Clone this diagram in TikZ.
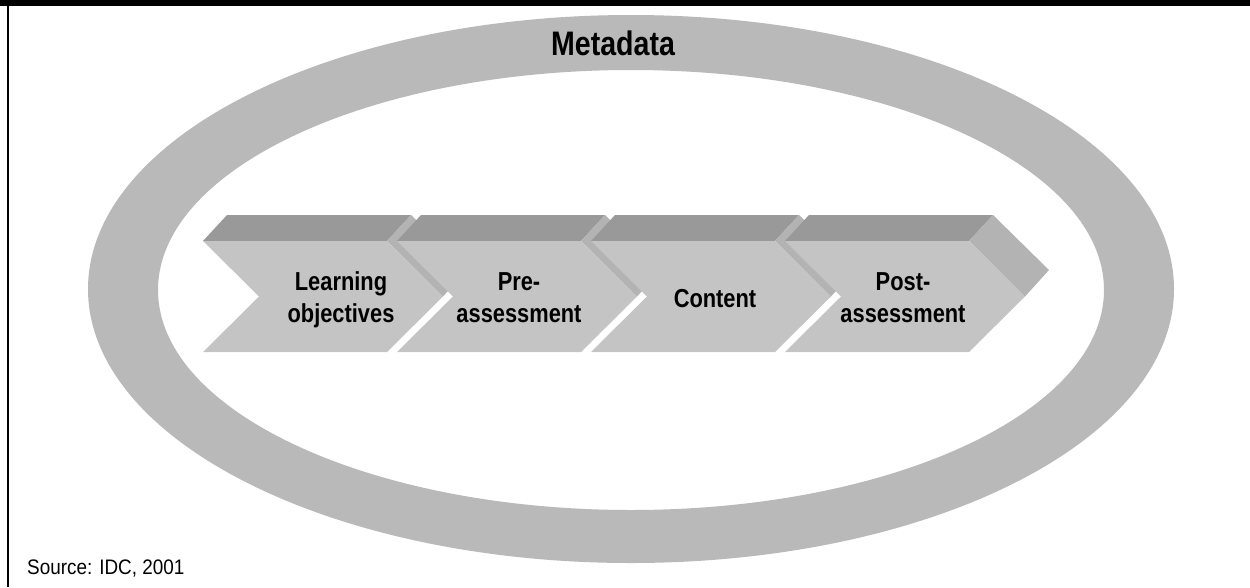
\documentclass[tikz,border=0pt]{standalone}
\usepackage{fontspec}
\setmainfont{Liberation Sans}
\newfontfamily\condfont[FakeStretch=0.84]{Liberation Sans}
\newfontfamily\srcfont[FakeStretch=0.9]{Liberation Sans}
\definecolor{ringgray}{HTML}{B9B9B9}
\definecolor{topgray}{HTML}{999999}
\definecolor{sidegray}{HTML}{B3B3B3}
\definecolor{frontgray}{HTML}{C4C4C4}
\tikzset{
	label/.style={align=center, font=\condfont\bfseries\fontsize{26}{32}\selectfont},
}
\begin{document}
\begin{tikzpicture}[x=1pt, y=-1pt]
		\def\w{184};
		\def\d{56};
		\useasboundingbox (0,0) rectangle (1250,587);
		\coordinate (C) at (631,289);
		% frame
		\fill[black] (0,0) rectangle (1250,6);
		\draw[line width=2pt] (7.5,6) -- (7.5,587);
		% metadata ring
		\fill[ringgray, even odd rule] (C) ellipse [x radius=543, y radius=274]
			(631,290) ellipse [x radius=473, y radius=220];
		\node[font=\condfont\bfseries\fontsize{34}{38}\selectfont] (meta) at (613,43) {Metadata};
		% chevrons
		\foreach \i in {0,...,3} {
			\pgfmathsetmacro{\xa}{203+194*\i}
			\fill[topgray] (\xa,241) -- (\xa+24,215) -- (\xa+\w+24,215) -- (\xa+\w,241) -- cycle;
			\fill[sidegray] (\xa+\w,241) -- (\xa+\w+24,215) -- (\xa+\w+\d+24,270) -- (\xa+\w+\d,296.5) -- cycle;
			\fill[frontgray] (\xa,241) -- (\xa+\w,241) -- (\xa+\w+\d,296.5) -- (\xa+\w,352)
				-- (\xa,352) -- (\xa+\d,296.5) -- cycle;
		}
		\node[label] (lo) at (341,300) {Learning\\objectives};
		\node[label] (pre) at (519,297.5) {Pre-\\assessment};
		\node[label] (content) at (715,298.5) {Content};
		\node[label] (post) at (903,297.5) {Post-\\assessment};
		\node[anchor=base west, inner sep=0pt, font=\srcfont\fontsize{21}{24}\selectfont] (source) at (27,574) {Source: IDC, 2001};
\end{tikzpicture}
\end{document}
